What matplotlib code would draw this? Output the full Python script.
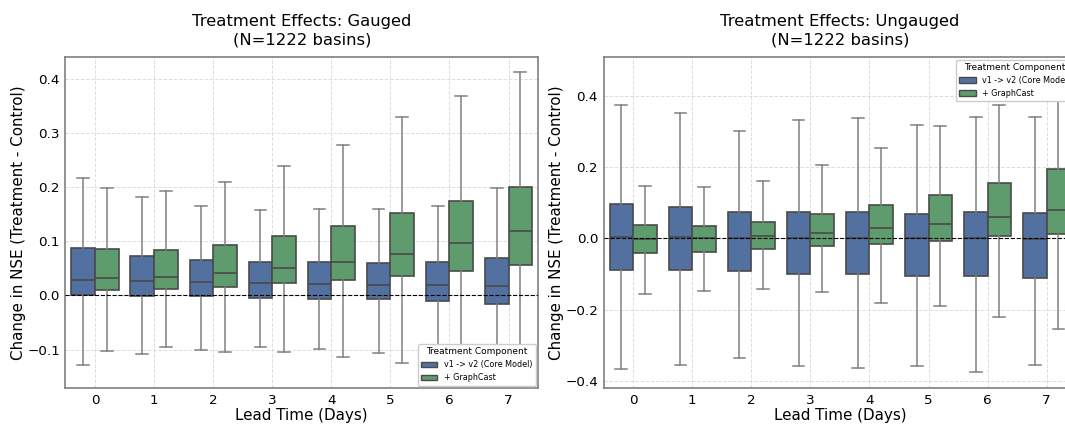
import numpy as np
import matplotlib
matplotlib.use("Agg")
import matplotlib.pyplot as plt
from matplotlib.patches import Patch

# Lead times (days)
days = [0, 1, 2, 3, 4, 5, 6, 7]
groups = ["v1 -> v2 (Core Model)", "+ GraphCast"]
colors = ["#5270a0", "#5e9c6d"]

# Gauged: box statistics per lead time (whisker low, Q1, median, Q3, whisker high)
g_core_lo = [-0.128, -0.108, -0.101, -0.095, -0.099, -0.106, -0.112, -0.120]
g_core_q1 = [0.001, -0.001, -0.001, -0.004, -0.006, -0.007, -0.010, -0.015]
g_core_med = [0.029, 0.026, 0.024, 0.023, 0.021, 0.019, 0.020, 0.018]
g_core_q3 = [0.088, 0.072, 0.065, 0.061, 0.061, 0.059, 0.062, 0.070]
g_core_hi = [0.217, 0.182, 0.166, 0.157, 0.160, 0.159, 0.166, 0.198]

g_gc_lo = [-0.103, -0.095, -0.105, -0.105, -0.113, -0.125, -0.132, -0.143]
g_gc_q1 = [0.010, 0.012, 0.015, 0.023, 0.028, 0.035, 0.045, 0.057]
g_gc_med = [0.033, 0.034, 0.041, 0.050, 0.061, 0.076, 0.097, 0.119]
g_gc_q3 = [0.086, 0.084, 0.094, 0.110, 0.128, 0.152, 0.175, 0.200]
g_gc_hi = [0.199, 0.193, 0.210, 0.239, 0.277, 0.329, 0.369, 0.413]

# Ungauged
u_core_lo = [-0.368, -0.355, -0.335, -0.359, -0.365, -0.359, -0.374, -0.356]
u_core_q1 = [-0.090, -0.090, -0.092, -0.100, -0.101, -0.106, -0.106, -0.112]
u_core_med = [0.003, 0.005, 0.002, 0.002, 0.002, 0.002, 0.002, -0.001]
u_core_q3 = [0.097, 0.087, 0.073, 0.075, 0.075, 0.068, 0.075, 0.071]
u_core_hi = [0.375, 0.353, 0.303, 0.334, 0.339, 0.320, 0.340, 0.340]

u_gc_lo = [-0.156, -0.149, -0.141, -0.151, -0.182, -0.190, -0.220, -0.254]
u_gc_q1 = [-0.040, -0.039, -0.029, -0.022, -0.017, -0.007, 0.006, 0.013]
u_gc_med = [-0.002, 0.000, 0.006, 0.016, 0.028, 0.040, 0.060, 0.080]
u_gc_q3 = [0.039, 0.036, 0.047, 0.069, 0.094, 0.122, 0.155, 0.195]
u_gc_hi = [0.148, 0.144, 0.160, 0.206, 0.253, 0.316, 0.375, 0.467]


def make_stats(lo, q1, med, q3, hi):
    return [dict(whislo=a, q1=b, med=c, q3=d, whishi=e, fliers=[])
            for a, b, c, d, e in zip(lo, q1, med, q3, hi)]


def draw_panel(ax, series, title, ylim, legend_loc):
    width = 0.4
    for i, stats in enumerate(series):
        pos = np.array(days) + (i - 0.5) * width
        ax.bxp(stats, positions=pos, widths=width, patch_artist=True,
               showfliers=False, manage_ticks=False,
               boxprops=dict(facecolor=colors[i], edgecolor="#4a4a4a", linewidth=1.2),
               medianprops=dict(color="#4a4a4a", linewidth=1.2),
               whiskerprops=dict(color="#808080", linewidth=1.1),
               capprops=dict(color="#808080", linewidth=1.1),
               zorder=2)
    ax.axhline(0, color="black", linestyle="--", linewidth=0.8, zorder=3)
    ax.set_xlim(-0.5, 7.5)
    ax.set_ylim(*ylim)
    ax.set_xticks(days)
    ax.set_xticklabels([str(d) for d in days])
    ax.grid(True, linestyle="--", color="#d0d0d0", alpha=0.7, linewidth=0.7)
    ax.set_axisbelow(True)
    for s in ax.spines.values():
        s.set_color("#808080")
        s.set_linewidth(1.2)
    ax.tick_params(labelsize=9.7, length=0, pad=4)
    ax.set_title(title, fontsize=11.8, pad=9, linespacing=1.35)
    ax.set_xlabel("Lead Time (Days)", fontsize=10.9, labelpad=1)
    ax.set_ylabel("Change in NSE (Treatment - Control)", fontsize=10.9, labelpad=1)
    handles = [Patch(facecolor=colors[i], edgecolor="#4a4a4a", label=groups[i])
               for i in range(2)]
    leg = ax.legend(handles=handles, title="Treatment Component", loc=legend_loc,
                    fontsize=5.8, title_fontsize=6.5, framealpha=1.0,
                    borderaxespad=0.3)
    leg.get_frame().set_edgecolor("#cccccc")


fig = plt.figure(figsize=(10.65, 4.24), dpi=100)
ax1 = fig.add_axes([0.0615, 0.085, 0.4437, 0.780])
ax2 = fig.add_axes([0.5668, 0.085, 0.4437, 0.780])

draw_panel(ax1,
           [make_stats(g_core_lo, g_core_q1, g_core_med, g_core_q3, g_core_hi),
            make_stats(g_gc_lo, g_gc_q1, g_gc_med, g_gc_q3, g_gc_hi)],
           "Treatment Effects: Gauged\n(N=1222 basins)", (-0.171, 0.44), "lower right")
draw_panel(ax2,
           [make_stats(u_core_lo, u_core_q1, u_core_med, u_core_q3, u_core_hi),
            make_stats(u_gc_lo, u_gc_q1, u_gc_med, u_gc_q3, u_gc_hi)],
           "Treatment Effects: Ungauged\n(N=1222 basins)", (-0.42, 0.509), "upper right")
ax2.set_yticks([-0.4, -0.2, 0.0, 0.2, 0.4])

fig.savefig("out.png", dpi=100)
